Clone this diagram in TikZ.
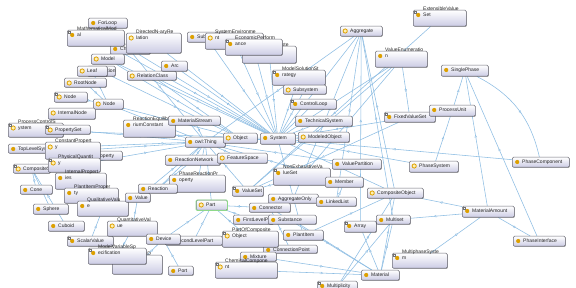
\documentclass[tikz,border=0pt]{standalone}
\usepackage{fontspec}
\setmainfont{Liberation Sans}
\usetikzlibrary{shadows,decorations.markings,arrows.meta,backgrounds}
\definecolor{edgec}{HTML}{8DBDE3}
\definecolor{lav}{HTML}{CBCBE4}
\definecolor{boxline}{HTML}{6E6E78}
\definecolor{iconc}{HTML}{DDA000}
\definecolor{iconin}{HTML}{FFF0B0}
\definecolor{partc}{HTML}{8ED88A}
\tikzset{
  clsbox/.style={rectangle, rounded corners=1.2pt, draw=boxline, line width=0.5pt,
    top color=white, bottom color=lav, inner sep=0pt,
    drop shadow={shadow xshift=0.6pt, shadow yshift=-0.6pt, opacity=0.35, fill=black}},
  clstext/.style={inner sep=0pt, align=left, font=\fontsize{5}{6}\selectfont, text=black!85},
  iconfull/.style={fill=iconc},
  hollowicon/.style={fill=iconin, draw=iconc, line width=0.8pt},
  edge/.style={draw=edgec, line width=0.55pt, postaction={decorate},
    decoration={markings, mark=at position 0.55 with {\arrow[edgec]{Triangle[fill=white, length=2.6pt, width=2.4pt, line width=0.4pt]}}}},
}
\newcommand\cls[7][iconfull]{%
  \node[clsbox, anchor=north west, minimum width={#5-#3}, minimum height={#6-#4}] (#2) at (#3,#4) {};
  \node[clstext, anchor=base west] at ({#3+10},{#4+6.8}) {#7};
  \path[#1] ({#3+5.2},{#4+5}) circle (2.1pt);
}
\newcommand\plusbox[1]{%
  \draw[black!55, line width=0.25pt, fill=white] ([xshift=0.8pt,yshift=-0.8pt]#1.north west) rectangle ++(2.4pt,-2.4pt);
}
\begin{document}
\begin{tikzpicture}[x=1pt, y=-1pt]
\useasboundingbox (0,0) rectangle (576,288);
% ---- top area
\cls{ForLoop}{88}{18}{127}{28}{ForLoop}
\cls{ChemReact}{110}{44}{150}{54}{ChemicalReaction}
\cls[hollowicon]{Relation}{87}{66}{115}{76}{Relation}
\cls{MathModel}{67}{30}{124}{46}{MathematicalMod\\al}\plusbox{MathModel}
\cls{Sub}{187}{32}{225}{42}{Subject}
\cls[hollowicon]{DirNary}{126}{33}{181}{53}{DirectedN-aryRe\\lation}
\cls{SysXm}{242}{46}{296}{63}{CompositeSyste\\m}
\cls[hollowicon]{SysEnv}{205}{33}{263}{49}{SystemEnvironme\\nt}
\cls{EconPerf}{225}{39}{282}{55}{EconomicPerform\\ance}\plusbox{EconPerf}
\cls[hollowicon]{Model}{91}{54}{124}{64}{Model}
\cls[hollowicon]{Leaf}{77}{66}{107}{76}{Leaf}
\cls[hollowicon]{RelClass}{127}{71}{176}{80}{RelationClass}
\cls{Arc}{161}{61}{187}{71}{Arc}
\cls[hollowicon]{RootNode}{64}{78}{106}{87}{RootNode}
\cls{ModSolStr}{272}{70}{325}{85}{ModelSolutionSt\\rategy}\plusbox{ModSolStr}
\cls[hollowicon]{Subsystem}{283}{85}{326}{94}{Subsystem}
\cls[hollowicon]{Aggregate}{340}{26}{382}{36}{Aggregate}
\cls{ExtValSet}{413}{10}{466}{26}{ExtensibleValue\\Set}\plusbox{ExtValSet}
\cls{ValEnum}{375}{51}{427}{67}{ValueEnumeratio\\n}
\cls{SinglePhase}{441}{65}{488}{76}{SinglePhase}
% ---- middle left
\cls[hollowicon]{NodeA}{54}{92}{87}{102}{Node}\plusbox{NodeA}
\cls[hollowicon]{NodeB}{93}{99}{123}{109}{Node}
\cls[hollowicon]{IntNode}{48}{108}{95}{119}{InternalNode}
\cls[hollowicon]{ProcCtrl}{8}{123}{63}{137}{ProcessControlS\\ystem}\plusbox{ProcCtrl}
\cls[hollowicon]{PropSet}{45}{125}{90}{134}{PropertySet}\plusbox{PropSet}
\cls{TopLevel}{8}{144}{47}{153}{TopLevelSystem}
\cls{PhysProp}{85}{151}{122}{160}{Property}
\cls[hollowicon]{ConstProp}{45}{142}{100}{159}{ConstantPropert\\y}
\cls[hollowicon]{CompSolid}{13}{164}{50}{173}{CompositeSolid}\plusbox{CompSolid}
\cls[hollowicon]{PhysQuant}{48}{158}{100}{172}{PhysicalQuantit\\y}\plusbox{PhysQuant}
\cls{IntProp}{55}{173}{106}{189}{InternalPropert\\ies}
\cls{Cone}{20}{185}{52}{194}{Cone}
\cls{PlantItemProp}{64}{188}{118}{203}{PlantItemProper\\ty}
\cls{Sphere}{33}{204}{68}{214}{Sphere}
\cls{QualVal}{77}{201}{128}{216}{QualitativeValu\\e}
\cls{Value}{125}{193}{150}{202}{Value}
\cls{Cuboid}{48}{221}{84}{231}{Cuboid}
\cls{ScalarVal}{67}{236}{113}{246}{ScalarValue}\plusbox{ScalarVal}
\cls{ConnDev}{112}{255}{162}{274}{ConnectionD\\evice}
\cls[hollowicon]{QuantVal}{107}{221}{157}{236}{QuantitativeVal\\ue}
\cls{ModVarSpec}{88}{248}{146}{264}{ModelVariableSp\\ecification}\plusbox{ModVarSpec}
\cls{SecLevel}{165}{236}{222}{245}{SecondLevelPart}
\cls{Device}{146}{234}{180}{244}{Device}
\cls{Port}{168}{266}{193}{275}{Port}
% ---- centre
\cls{ReactEq}{123}{120}{175}{137}{ReactionEquilib\\riumConstant}
\cls{MatStream}{168}{116}{220}{125}{MaterialStream}
\cls{owlThing}{185}{137}{225}{147}{owl:Thing}
\cls[hollowicon]{Object}{223}{133}{257}{143}{Object}
\cls{System}{260}{133}{295}{144}{System}
\cls{ReactNet}{165}{155}{220}{165}{ReactionNetwork}
\cls[hollowicon]{FeatSpace}{217}{153}{267}{163}{FeatureSpace}
\cls{PhaseReactProp}{169}{175}{225}{192}{PhaseReactionPr\\operty}
\cls{Reaction}{138}{184}{177}{193}{Reaction}
\cls{NonExh}{273}{168}{330}{185}{NonExhaustiveVa\\lueSet}\plusbox{NonExh}
\cls{ControlLoop}{290}{99}{336}{109}{ControlLoop}\plusbox{ControlLoop}
\cls{TechSys}{295}{116}{352}{126}{TechnicalSystem}
\cls[hollowicon]{ModeledObj}{298}{132}{349}{142}{ModeledObject}
\cls{FixedValSet}{384}{112}{435}{122}{FixedValueSet}\plusbox{FixedValSet}
\cls{ValPart}{332}{159}{381}{169}{ValuePartition}
\cls{Member}{325}{177}{363}{187}{Member}
\cls[hollowicon]{PhaseSys}{409}{161}{458}{172}{PhaseSystem}
\cls{ProcUnit}{429}{105}{475}{116}{ProcessUnit}
\cls{PhaseComp}{512}{157}{569}{167}{PhaseComponent}
% ---- bottom
\cls{ValueSet}{232}{186}{263}{196}{ValueSet}\plusbox{ValueSet}
\cls{AggOnly}{268}{194}{318}{203}{AggregateOnly}
\cls{Connector}{249}{203}{290}{212}{Connector}
\cls[hollowicon]{Part}{196}{200}{227}{210}{Part}
\draw[partc, line width=0.8pt, rounded corners=1.2pt] (Part.north west) rectangle (Part.south east);
\cls{FirstLevel}{233}{215}{273}{224}{FirstLevelPart}
\cls{Substance}{268}{215}{316}{224}{Substance}
\cls{ConnPoint}{263}{245}{317}{253}{ConnectionPoint}
\cls{PlantItem}{283}{230}{323}{240}{PlantItem}
\cls[hollowicon]{PartOfComp}{222}{231}{278}{247}{PartOfComposite\\Object}\plusbox{PartOfComp}
\cls{Mixture}{240}{252}{276}{261}{Mixture}
\cls[hollowicon]{ChemComp}{215}{262}{277}{278}{ChemicalCompone\\nt}\plusbox{ChemComp}
\cls{LinkedList}{316}{197}{356}{206}{LinkedList}
\cls[hollowicon]{CompObj}{367}{188}{423}{198}{CompositeObject}
\cls{Multiset}{376}{215}{410}{224}{Multiset}
\cls{Array}{344}{221}{376}{232}{Array}\plusbox{Array}
\cls{Material}{361}{270}{399}{280}{Material}
\cls{Multiplicity}{317}{281}{357}{292}{Multiplicity}\plusbox{Multiplicity}
\cls{MultiPhase}{392}{253}{447}{268}{MultiphaseSyste\\m}\plusbox{MultiPhase}
\cls{MatAmount}{462}{206}{514}{217}{MaterialAmount}\plusbox{MatAmount}
\cls{PhaseInt}{513}{236}{565}{246}{PhaseInterface}
% ---- connectors
\begin{scope}[on background layer]
\fill[white] (0,0) rectangle (576,288);
\foreach \a/\b in {
  Model/System, MathModel/System, ForLoop/owlThing, DirNary/System, Arc/System, RelClass/System,
  ChemReact/System, Sub/System, SysEnv/System, EconPerf/System, SysXm/System, ModSolStr/System,
  Subsystem/System, ControlLoop/System, TechSys/System, ModeledObj/System, Aggregate/System,
  Aggregate/owlThing, ProcCtrl/System, TopLevel/System, PhaseSys/System, PhaseComp/System,
  Object/owlThing, System/owlThing, MatStream/owlThing, ReactEq/owlThing, ReactNet/owlThing,
  FeatSpace/owlThing, NodeB/owlThing, PropSet/owlThing, ConstProp/owlThing, PhysQuant/owlThing,
  Value/owlThing, Reaction/owlThing, PhaseReactProp/owlThing, Part/owlThing, ValueSet/owlThing,
  ValPart/owlThing, Member/owlThing, Relation/Object, RelClass/Object, Model/Object,
  Leaf/NodeB, RootNode/NodeB, IntNode/NodeB, NodeA/NodeB, NodeB/Object, PhysProp/ConstProp,
  CompSolid/PhysQuant, IntProp/PhysQuant, PlantItemProp/PhysQuant, Cone/CompSolid, Sphere/CompSolid,
  Cuboid/CompSolid, QualVal/Value, QuantVal/Value, ScalarVal/QualVal, ModVarSpec/QuantVal,
  Device/QuantVal, Device/Part, SecLevel/Part, Port/Device, ConnDev/Device, FirstLevel/Part,
  Connector/Part, PartOfComp/Part, ExtValSet/ValueSet, ValEnum/ValueSet, FixedValSet/ValueSet,
  NonExh/ValueSet, ValEnum/NonExh, ValEnum/FixedValSet, AggOnly/Aggregate, LinkedList/Aggregate,
  Multiset/Aggregate, Array/Aggregate, CompObj/Aggregate, Material/CompObj, PlantItem/CompObj,
  Substance/Material, Mixture/Material, ChemComp/Material, Connector/Material, Multiplicity/Multiset,
  Material/Multiset, Material/Array, ProcUnit/SinglePhase, MatAmount/SinglePhase,
  PhaseInt/SinglePhase, PhaseSys/ProcUnit, MatAmount/Multiset, MatAmount/CompObj, MultiPhase/MatAmount,
  PhaseInt/MatAmount, ConnPoint/Connector, PlantItem/System, FixedValSet/System, ValEnum/System,
  CompObj/System, LinkedList/Member, Multiplicity/CompObj, ReactNet/Reaction, PhaseReactProp/Reaction}
  \draw[edge] (\a) -- (\b);
\draw[edge] (SinglePhase) to[bend left=25] (PhaseComp);
\end{scope}
\end{tikzpicture}
\end{document}
